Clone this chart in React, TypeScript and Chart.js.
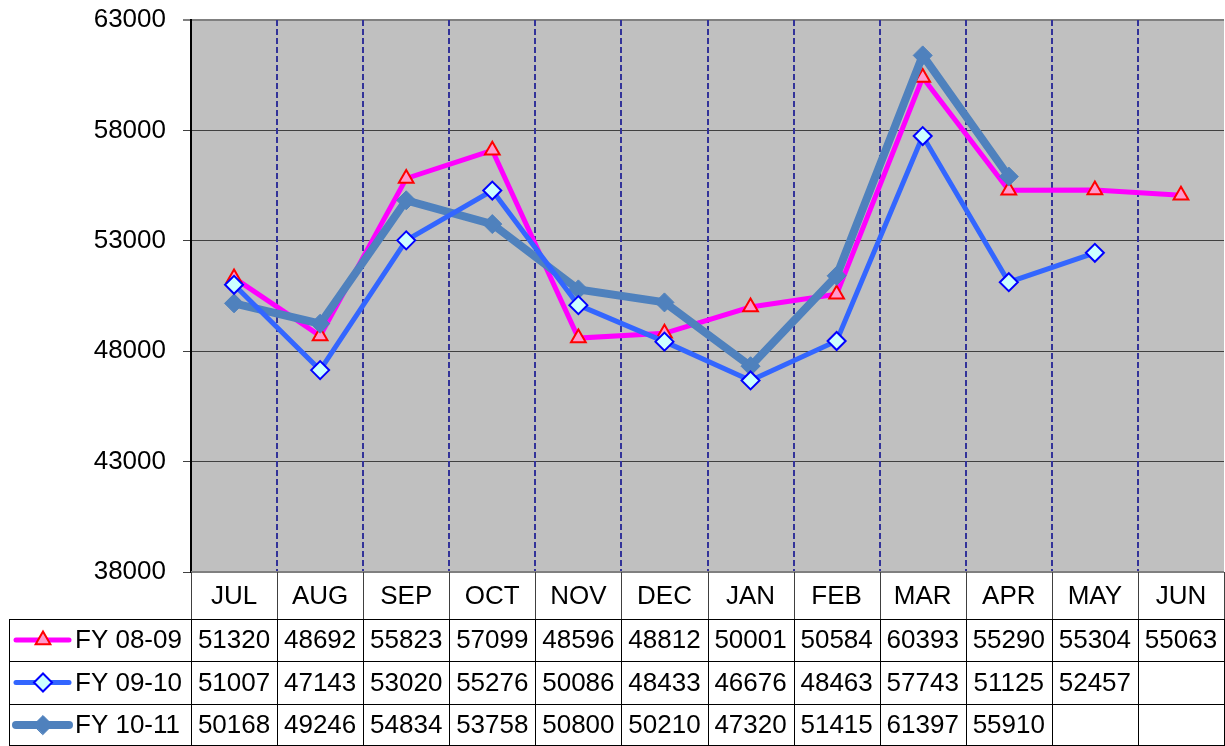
import React, { useEffect, useRef } from 'react';
import { Chart, registerables } from 'chart.js';

Chart.register(...registerables);

const months = ['JUL', 'AUG', 'SEP', 'OCT', 'NOV', 'DEC', 'JAN', 'FEB', 'MAR', 'APR', 'MAY', 'JUN'];
const seriesNames = ['FY 08-09', 'FY 09-10', 'FY 10-11'];
const fy0809: (number | null)[] = [51320, 48692, 55823, 57099, 48596, 48812, 50001, 50584, 60393, 55290, 55304, 55063];
const fy0910: (number | null)[] = [51007, 47143, 53020, 55276, 50086, 48433, 46676, 48463, 57743, 51125, 52457, null];
const fy1011: (number | null)[] = [50168, 49246, 54834, 53758, 50800, 50210, 47320, 51415, 61397, 55910, null, null];
const yMin = 38000;
const yMax = 63000;
const yStep = 5000;

const FONT = '"Liberation Sans", Arial, sans-serif';

type Style = {
  line: string;
  lineWidth: number;
  point: 'triangle' | 'rectRot';
  radius: number;
  fill: string;
  stroke: string;
  pw: number;
  order: number;
};

const styles: Style[] = [
  { line: '#FF00FF', lineWidth: 5, point: 'triangle', radius: 8.5, fill: '#FF99CC', stroke: '#FF0000', pw: 2, order: 3 },
  { line: '#3366FF', lineWidth: 5, point: 'rectRot', radius: 9, fill: '#CCFFFF', stroke: '#0000FF', pw: 2, order: 1 },
  { line: '#4F81BD', lineWidth: 8, point: 'rectRot', radius: 9.5, fill: '#4F81BD', stroke: '#4F81BD', pw: 1, order: 2 },
];

function drawMarker(ctx: CanvasRenderingContext2D, s: Style, x: number, y: number) {
  const r = s.radius;
  ctx.beginPath();
  if (s.point === 'triangle') {
    for (let k = 0; k < 3; k++) {
      const ang = (k * 2 * Math.PI) / 3;
      const px = x + Math.sin(ang) * r;
      const py = y - Math.cos(ang) * r;
      if (k === 0) ctx.moveTo(px, py);
      else ctx.lineTo(px, py);
    }
  } else {
    ctx.moveTo(x - r, y);
    ctx.lineTo(x, y - r);
    ctx.lineTo(x + r, y);
    ctx.lineTo(x, y + r);
  }
  ctx.closePath();
  ctx.fillStyle = s.fill;
  ctx.fill();
  ctx.lineWidth = s.pw;
  ctx.strokeStyle = s.stroke;
  ctx.stroke();
}

const zeroPad = (s: any) => {
  s.paddingTop = 0;
  s.paddingBottom = 0;
  s.paddingLeft = 0;
  s.paddingRight = 0;
};

export default function App() {
  const ref = useRef<HTMLCanvasElement>(null);

  useEffect(() => {
    if (!ref.current) return;
    const seriesData = [fy0809, fy0910, fy1011];
    const rowEdges = [572, 619, 661, 704, 746];

    const plugin = {
      id: 'excelLook',
      beforeDraw(chart: any) {
        const { ctx, chartArea: a } = chart;
        ctx.save();
        ctx.fillStyle = '#FFFFFF';
        ctx.fillRect(0, 0, chart.width, chart.height);
        ctx.fillStyle = '#C0C0C0';
        ctx.fillRect(a.left, a.top, a.right - a.left, a.bottom - a.top);
        ctx.restore();
      },
      beforeDatasetsDraw(chart: any) {
        const { ctx, chartArea: a } = chart;
        const x = chart.scales.x;
        ctx.save();
        ctx.strokeStyle = '#333399';
        ctx.lineWidth = 2;
        ctx.setLineDash([6, 3]);
        for (let i = 1; i < months.length; i++) {
          const px = Math.round((x.getPixelForValue(i - 1) + x.getPixelForValue(i)) / 2);
          ctx.beginPath();
          ctx.moveTo(px, a.top);
          ctx.lineTo(px, a.bottom);
          ctx.stroke();
        }
        ctx.restore();
      },
      afterDraw(chart: any) {
        const { ctx, chartArea: a } = chart;
        const x = chart.scales.x;
        const n = months.length;
        const half = (x.getPixelForValue(1) - x.getPixelForValue(0)) / 2;
        const edges: number[] = [];
        for (let i = 0; i < n; i++) edges.push(x.getPixelForValue(i) - half);
        edges.push(x.getPixelForValue(n - 1) + half);
        const tableTop = a.bottom;

        ctx.save();
        ctx.strokeStyle = '#808080';
        ctx.lineWidth = 2;
        ctx.beginPath();
        ctx.moveTo(a.left, tableTop);
        ctx.lineTo(a.right, tableTop);
        ctx.stroke();

        ctx.lineWidth = 1;
        for (let i = 0; i <= n; i++) {
          const px = Math.round(edges[i]) + 0.5;
          ctx.strokeStyle = '#404040';
          ctx.beginPath();
          ctx.moveTo(px, tableTop);
          ctx.lineTo(px, rowEdges[1]);
          ctx.stroke();
          ctx.strokeStyle = '#000000';
          ctx.beginPath();
          ctx.moveTo(px, rowEdges[1]);
          ctx.lineTo(px, 746);
          ctx.stroke();
        }
        ctx.strokeStyle = '#000000';
        ctx.beginPath();
        ctx.moveTo(9.5, rowEdges[1]);
        ctx.lineTo(9.5, 746);
        ctx.stroke();
        for (let r = 1; r < rowEdges.length; r++) {
          const py = (r === rowEdges.length - 1 ? rowEdges[r] - 1 : rowEdges[r]) + 0.5;
          ctx.beginPath();
          ctx.moveTo(9, py);
          ctx.lineTo(Math.round(edges[n]) + 1, py);
          ctx.stroke();
        }

        ctx.fillStyle = '#000000';
        ctx.font = `26px ${FONT}`;
        ctx.textAlign = 'center';
        ctx.textBaseline = 'middle';
        for (let i = 0; i < n; i++) {
          ctx.fillText(months[i], x.getPixelForValue(i), (rowEdges[0] + rowEdges[1]) / 2 + 1);
        }
        for (let s = 0; s < seriesData.length; s++) {
          const cy = (rowEdges[s + 1] + rowEdges[s + 2]) / 2 + 1;
          const st = styles[s];
          ctx.save();
          ctx.strokeStyle = st.line;
          ctx.lineWidth = st.lineWidth;
          ctx.lineCap = 'round';
          ctx.beginPath();
          ctx.moveTo(16, cy - 1);
          ctx.lineTo(69, cy - 1);
          ctx.stroke();
          drawMarker(ctx, st, 43, cy - 1);
          ctx.restore();
          ctx.fillStyle = '#000000';
          ctx.textAlign = 'left';
          ctx.fillText(seriesNames[s], 75, cy);
          ctx.textAlign = 'center';
          for (let i = 0; i < n; i++) {
            const v = seriesData[s][i];
            if (v !== null && v !== undefined) ctx.fillText(String(v), x.getPixelForValue(i), cy);
          }
        }
        ctx.restore();
      },
    };

    const datasets = seriesData.map((d, i) => ({
      label: seriesNames[i],
      data: d,
      borderColor: styles[i].line,
      borderWidth: styles[i].lineWidth,
      backgroundColor: styles[i].fill,
      pointStyle: styles[i].point,
      pointRadius: styles[i].radius,
      pointBackgroundColor: styles[i].fill,
      pointBorderColor: styles[i].stroke,
      pointBorderWidth: styles[i].pw,
      tension: 0,
      spanGaps: false,
      fill: false,
      order: styles[i].order,
    }));

    const chart: any = new Chart(ref.current, {
      type: 'line',
      data: { labels: months, datasets },
      options: {
        responsive: false,
        maintainAspectRatio: false,
        animation: false,
        devicePixelRatio: 1,
        layout: { autoPadding: false, padding: { top: 20, right: 1, bottom: 174, left: 0 } },
        plugins: { legend: { display: false }, tooltip: { enabled: false } },
        scales: {
          x: {
            type: 'category',
            offset: true,
            display: false,
            afterFit: zeroPad,
          },
          y: {
            min: yMin,
            max: yMax,
            afterFit: (s: any) => {
              s.width = 191;
              zeroPad(s);
            },
            ticks: {
              stepSize: yStep,
              color: '#000000',
              padding: 17,
              font: { family: FONT, size: 26 },
              callback: (v: any) => String(v),
            },
            grid: {
              color: (c: any) => (c.tick && c.tick.value === yMax ? '#808080' : '#404040'),
              lineWidth: (c: any) => (c.tick && c.tick.value === yMax ? 2 : 1),
              tickLength: 8,
              drawTicks: true,
            },
            border: { color: '#000000', width: 2 },
          },
        },
      },
      plugins: [plugin],
    } as any);

    return () => chart.destroy();
  }, []);

  return (
    <div style={{ position: 'fixed', left: 0, top: 0, width: 1225, height: 746, background: '#fff' }}>
      <canvas ref={ref} width={1225} height={746} style={{ display: 'block', width: 1225, height: 746 }} />
    </div>
  );
}
